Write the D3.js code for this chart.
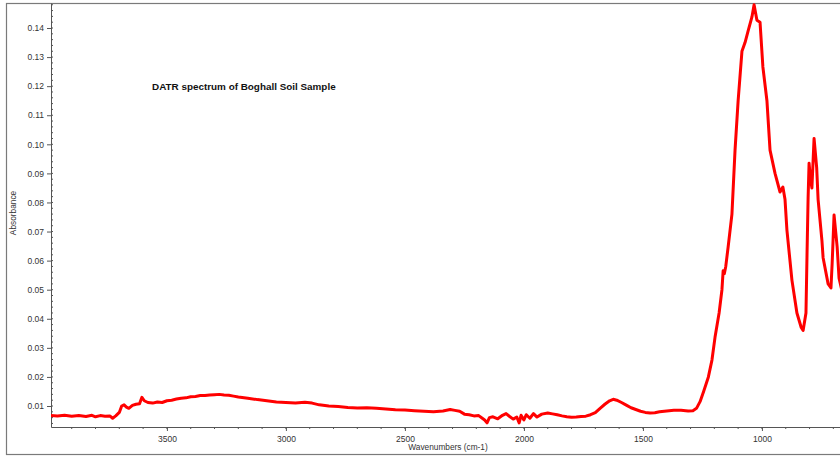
<!DOCTYPE html>
<html>
<head>
<meta charset="utf-8">
<script src="https://cdn.jsdelivr.net/npm/d3@7"></script>
<style>
  body { margin: 0; background: #fff; }
  svg { display: block; font-family: "Liberation Sans", Arial, sans-serif; }
</style>
</head>
<body>
<div id="chart"></div>
<script>
// Spectrum (wavenumber cm-1, absorbance)
var wavenumbers = [3987, 3960, 3930, 3900, 3870, 3840, 3815, 3800, 3780, 3760, 3740, 3728, 3715, 3700, 3690, 3680, 3670, 3660, 3645, 3630,
  3615, 3605, 3595, 3580, 3560, 3540, 3520, 3500, 3480, 3460, 3440, 3420, 3400, 3380, 3360, 3340, 3320, 3300, 3280, 3260,
  3240, 3220, 3200, 3160, 3120, 3080, 3040, 3000, 2960, 2920, 2890, 2860, 2820, 2780, 2740, 2700, 2660, 2620, 2580, 2540,
  2500, 2460, 2420, 2380, 2340, 2310, 2290, 2270, 2250, 2230, 2210, 2190, 2175, 2165, 2155, 2145, 2130, 2110, 2090, 2075,
  2060, 2045, 2030, 2020, 2012, 2000, 1990, 1975, 1960, 1945, 1925, 1900, 1880, 1860, 1840, 1820, 1800, 1780, 1760, 1740,
  1720, 1700, 1680, 1660, 1640, 1625, 1610, 1590, 1570, 1550, 1530, 1510, 1490, 1470, 1450, 1430, 1400, 1370, 1340, 1310,
  1290, 1275, 1260, 1245, 1225, 1210, 1197, 1180, 1168, 1163, 1158, 1152, 1142, 1126, 1113, 1100, 1084, 1071, 1058, 1042,
  1033, 1021, 1008, 996, 979, 966, 945, 924, 912, 903, 895, 874, 853, 835, 827, 815, 810, 806, 802, 796,
  790, 781, 770, 764, 748, 743, 722, 710, 705, 697, 684, 676, 665];
var absorbance = [0.0067, 0.0066, 0.0068, 0.0065, 0.0067, 0.0064, 0.0068, 0.0063, 0.0067, 0.0065, 0.0066, 0.0058, 0.0066, 0.0078, 0.0100, 0.0104, 0.0096, 0.0092, 0.0102, 0.0106,
  0.0108, 0.0130, 0.0118, 0.0112, 0.0110, 0.0114, 0.0112, 0.0118, 0.0120, 0.0124, 0.0127, 0.0128, 0.0132, 0.0133, 0.0136, 0.0136, 0.0138, 0.0139, 0.0140, 0.0138,
  0.0137, 0.0134, 0.0131, 0.0127, 0.0122, 0.0118, 0.0114, 0.0112, 0.0110, 0.0113, 0.0110, 0.0104, 0.0100, 0.0098, 0.0095, 0.0093, 0.0094, 0.0092, 0.0090, 0.0087,
  0.0086, 0.0084, 0.0082, 0.0080, 0.0083, 0.0088, 0.0085, 0.0082, 0.0072, 0.0070, 0.0066, 0.0067, 0.0058, 0.0052, 0.0042, 0.0060, 0.0063, 0.0056, 0.0068, 0.0074,
  0.0064, 0.0055, 0.0062, 0.0042, 0.0068, 0.0052, 0.0070, 0.0058, 0.0074, 0.0062, 0.0072, 0.0076, 0.0073, 0.0070, 0.0066, 0.0063, 0.0061, 0.0062, 0.0064, 0.0065,
  0.0070, 0.0077, 0.0092, 0.0106, 0.0118, 0.0123, 0.0120, 0.0112, 0.0103, 0.0094, 0.0088, 0.0082, 0.0078, 0.0076, 0.0077, 0.0080, 0.0083, 0.0085, 0.0085, 0.0083,
  0.0084, 0.0092, 0.0115, 0.0150, 0.0200, 0.0258, 0.0337, 0.0420, 0.0500, 0.0565, 0.0555, 0.0580, 0.0647, 0.0760, 0.0980, 0.1150, 0.1320, 0.1350, 0.1390, 0.1438,
  0.1480, 0.1427, 0.1420, 0.1266, 0.1150, 0.0980, 0.0900, 0.0836, 0.0853, 0.0810, 0.0705, 0.0533, 0.0420, 0.0370, 0.0360, 0.0420, 0.0647, 0.0817, 0.0935, 0.0880,
  0.0850, 0.1020, 0.0920, 0.0810, 0.0670, 0.0610, 0.0520, 0.0506, 0.0590, 0.0757, 0.0647, 0.0540, 0.0500];

var xTicks = [3500, 3000, 2500, 2000, 1500, 1000];
var yTicks = [0.01, 0.02, 0.03, 0.04, 0.05, 0.06, 0.07, 0.08, 0.09, 0.10, 0.11, 0.12, 0.13, 0.14];

var fullWidth = 840, fullHeight = 457;
var plot = { left: 51, top: 3, right: 850, bottom: 427 };

var svg = d3.select("#chart").append("svg")
    .attr("width", fullWidth)
    .attr("height", fullHeight);

// Outer frame
svg.append("rect")
    .attr("x", 6.5).attr("y", 3.5)
    .attr("width", 900).attr("height", 451)
    .attr("fill", "none")
    .attr("stroke", "#7a7a7a")
    .attr("stroke-width", 1.2);

var x = d3.scaleLinear().domain([3987, 630]).range([plot.left, plot.right]);
var y = d3.scaleLinear().domain([0.00278, 0.1486]).range([plot.bottom, plot.top]);

// Minor ticks
var xMinor = d3.range(3900, 600, -100);
var yMinor = d3.range(0.004, 0.1486, 0.002);

var axisColor = "#555";

// X axis
var xAxis = svg.append("g")
    .attr("transform", "translate(0," + plot.bottom + ")")
    .call(d3.axisBottom(x).tickValues(xTicks).tickSize(4).tickSizeOuter(0).tickFormat(d3.format("d")));
xAxis.selectAll(".tick text").attr("dy", "0.95em");
svg.append("g")
    .attr("transform", "translate(0," + plot.bottom + ")")
    .selectAll("line").data(xMinor).enter().append("line")
    .attr("x1", function(d) { return x(d); }).attr("x2", function(d) { return x(d); })
    .attr("y1", 0).attr("y2", 2)
    .attr("stroke", axisColor);

// Y axis
var yAxis = svg.append("g")
    .attr("transform", "translate(" + plot.left + ",0)")
    .call(d3.axisLeft(y).tickValues(yTicks).tickSize(4).tickSizeOuter(0).tickFormat(d3.format(".2f")));
svg.append("g")
    .attr("transform", "translate(" + plot.left + ",0)")
    .selectAll("line").data(yMinor).enter().append("line")
    .attr("y1", function(d) { return y(d); }).attr("y2", function(d) { return y(d); })
    .attr("x1", 0).attr("x2", 2)
    .attr("stroke", axisColor);

[xAxis, yAxis].forEach(function(a) {
    a.selectAll(".domain").attr("stroke", axisColor);
    a.selectAll(".tick line").attr("stroke", axisColor);
    a.selectAll(".tick text")
        .attr("fill", "#333")
        .style("font-size", "8.5px")
        .style("font-family", "'Liberation Sans', Arial, sans-serif");
});

// Clip for the spectrum
svg.append("clipPath").attr("id", "plotclip")
    .append("rect")
    .attr("x", plot.left).attr("y", plot.top)
    .attr("width", plot.right - plot.left).attr("height", plot.bottom - plot.top);

var spectrum = wavenumbers.map(function(w, i) { return { w: w, a: absorbance[i] }; });

var line = d3.line()
    .x(function(d) { return x(d.w); })
    .y(function(d) { return y(d.a); });

svg.append("path")
    .datum(spectrum)
    .attr("clip-path", "url(#plotclip)")
    .attr("fill", "none")
    .attr("stroke", "#ff0000")
    .attr("stroke-width", 3)
    .attr("stroke-linejoin", "round")
    .attr("d", line);

// Title and axis labels
svg.append("text")
    .attr("x", 152).attr("y", 90)
    .style("font-size", "9.9px")
    .style("font-weight", "bold")
    .attr("fill", "#111")
    .text("DATR spectrum of Boghall Soil Sample");

svg.append("text")
    .attr("x", 448).attr("y", 450)
    .attr("text-anchor", "middle")
    .style("font-size", "8.3px")
    .attr("fill", "#333")
    .text("Wavenumbers (cm-1)");

svg.append("text")
    .attr("transform", "translate(16,213) rotate(-90)")
    .attr("text-anchor", "middle")
    .style("font-size", "8.3px")
    .attr("fill", "#333")
    .text("Absorbance");
</script>
</body>
</html>
